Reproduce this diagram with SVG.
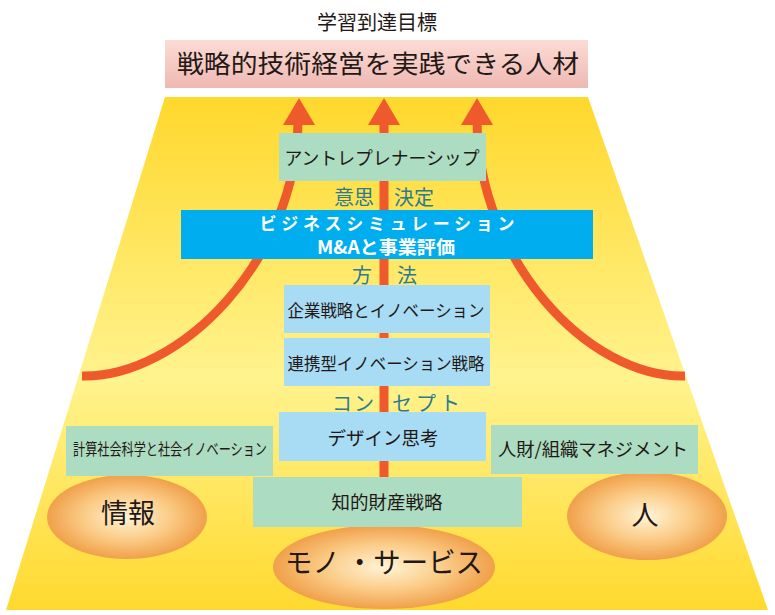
<svg xmlns="http://www.w3.org/2000/svg" width="775" height="615" viewBox="0 0 775 615">
<defs>
<linearGradient id="yel" x1="0" y1="0" x2="0" y2="1">
<stop offset="0" stop-color="#FFD82C"/>
<stop offset="0.55" stop-color="#FFF38E"/>
<stop offset="1" stop-color="#FFD92E"/>
</linearGradient>
<linearGradient id="pink" x1="0" y1="0" x2="0" y2="1">
<stop offset="0" stop-color="#FBDCD4"/>
<stop offset="1" stop-color="#EFB8B3"/>
</linearGradient>
<radialGradient id="orb" cx="0.5" cy="0.5" r="0.5">
<stop offset="0" stop-color="#FFF4D6"/>
<stop offset="0.55" stop-color="#FBCB86"/>
<stop offset="1" stop-color="#F0A04A"/>
</radialGradient>
<style>
.t{font-family:"Noto Sans CJK JP","Noto Sans",sans-serif;fill:#231815;text-anchor:middle;dominant-baseline:central}
.lbl{font-family:"Noto Sans CJK JP",sans-serif;fill:#2A7B93;text-anchor:middle;dominant-baseline:central;font-size:20px}
.w{font-family:"Noto Sans CJK JP",sans-serif;fill:#FFFFFF;text-anchor:middle;dominant-baseline:central}
.green{fill:#ACDCC2}
.lblue{fill:#A7DCF4}
.arr{fill:none;stroke:#EE5A2C;stroke-width:9}
.head{fill:#EE5A2C}
.orb{fill:url(#orb)}
</style>
</defs>

<text class="t" x="377" y="21" font-size="20">学習到達目標</text>
<g id="goal">
<rect x="165" y="40" width="423" height="48" fill="url(#pink)"/>
<text class="t" x="378" y="62" font-size="25" textLength="402" lengthAdjust="spacingAndGlyphs">戦略的技術経営を実践できる人材</text>
</g>

<polygon id="pyramid" points="165,97 588,97 768,610 6,610" fill="url(#yel)"/>

<g id="connectors">
<path class="arr" d="M298,120 C297,260 180,378 82,376"/>
<path class="arr" d="M477,120 C478,260 588,378 685,376"/>
<path class="arr" d="M384,120 L384,478" stroke-width="8"/>
<polygon class="head" points="299,98 315,125 283,125"/>
<polygon class="head" points="384,98 400,125 368,125"/>
<polygon class="head" points="477,98 493,125 461,125"/>
</g>

<g id="info">
<ellipse class="orb" cx="127" cy="517" rx="80" ry="42"/>
<text class="t" x="128" y="511" font-size="27">情報</text>
</g>
<g id="hito">
<ellipse class="orb" cx="647" cy="516" rx="80" ry="44"/>
<text class="t" x="645" y="513" font-size="27">人</text>
</g>
<g id="mono">
<ellipse class="orb" cx="384" cy="567" rx="111" ry="42"/>
<text class="t" x="384" y="561" font-size="28" textLength="198" lengthAdjust="spacingAndGlyphs">モノ ・サービス</text>
</g>

<g id="entre">
<rect class="green" x="279" y="133" width="207" height="48"/>
<text class="t" x="382" y="157" font-size="18" textLength="195" lengthAdjust="spacingAndGlyphs">アントレプレナーシップ</text>
</g>

<g id="label-ishi">
<text class="lbl" x="354" y="196" font-size="21">意思</text>
<text class="lbl" x="414" y="196" font-size="21">決定</text>
</g>

<g id="bizsim">
<rect x="181" y="210" width="412" height="49" fill="#00AEEF"/>
<text class="w" x="387" y="222" font-size="17" font-weight="bold" textLength="255" lengthAdjust="spacing">ビジネスシミュレーション</text>
<text class="w" x="386" y="246" font-size="18" font-weight="bold" textLength="138" lengthAdjust="spacingAndGlyphs">M&amp;Aと事業評価</text>
</g>

<g id="label-hoho">
<text class="lbl" x="362" y="274">方</text>
<text class="lbl" x="407" y="274">法</text>
</g>

<g id="kigyo">
<rect class="lblue" x="284" y="285" width="206" height="48"/>
<text class="t" x="386" y="309" font-size="17" textLength="197" lengthAdjust="spacingAndGlyphs">企業戦略とイノベーション</text>
</g>

<g id="renkei">
<rect class="lblue" x="284" y="338" width="206" height="48"/>
<text class="t" x="386" y="362" font-size="17" textLength="197" lengthAdjust="spacingAndGlyphs">連携型イノベーション戦略</text>
</g>

<g id="label-concept">
<text class="lbl" x="353" y="402" textLength="42" lengthAdjust="spacing">コン</text>
<text class="lbl" x="426" y="402" textLength="68" lengthAdjust="spacing">セプト</text>
</g>

<g id="design">
<rect class="lblue" x="279" y="412" width="207" height="49"/>
<text class="t" x="383" y="437" font-size="18.5">デザイン思考</text>
</g>

<g id="keisan">
<rect class="green" x="66" y="426" width="207" height="50"/>
<text class="t" x="170" y="448" font-size="16" textLength="194" lengthAdjust="spacingAndGlyphs">計算社会科学と社会イノベーション</text>
</g>

<g id="jinzai">
<rect class="green" x="491" y="425" width="207" height="49"/>
<text class="t" x="593" y="448" font-size="18" textLength="190" lengthAdjust="spacingAndGlyphs">人財/組織マネジメント</text>
</g>

<g id="chiteki">
<rect class="green" x="253" y="477" width="269" height="50"/>
<text class="t" x="387" y="501" font-size="18.5">知的財産戦略</text>
</g>
</svg>
